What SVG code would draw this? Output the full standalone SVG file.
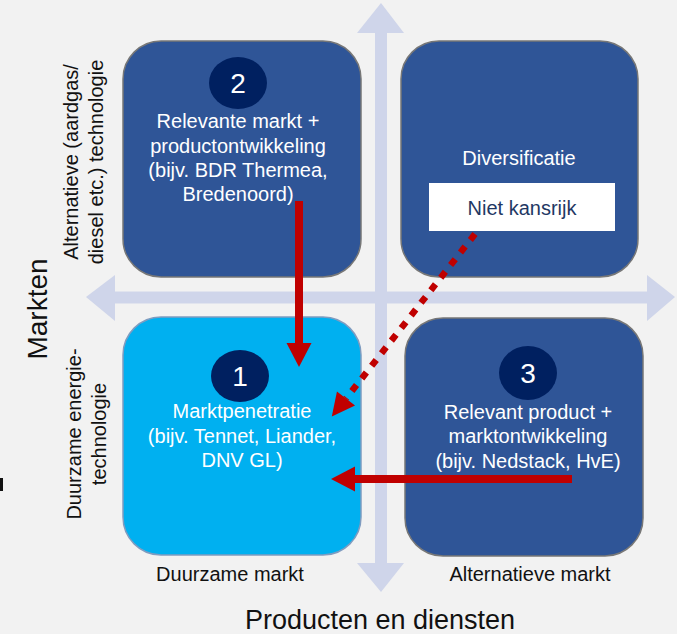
<svg xmlns="http://www.w3.org/2000/svg" width="677" height="634" viewBox="0 0 677 634">
  <style>
    .t{font-family:"Liberation Sans",Arial,sans-serif;}
    .lbl{font-size:20px;fill:#111;}
    .wt{font-size:20px;fill:#ffffff;text-anchor:middle;}
    .num{font-size:28px;fill:#ffffff;text-anchor:middle;}
    .dark{fill:#2f5597;stroke:#777777;stroke-width:1.5;}
    .light{fill:#00b0f0;stroke:#7f9cc0;stroke-width:1.5;}
    .circ{fill:#002060;}
    .axis{fill:#cfd5ea;}
    .arrow{fill:none;stroke:#c00000;stroke-width:8;}
    .dots{fill:none;stroke:#c00000;stroke-width:6.5;stroke-dasharray:7.5 8.5;}
  </style>
  <defs>
    <marker id="ah" markerWidth="24" markerHeight="25" refX="0" refY="12.5" orient="auto" markerUnits="userSpaceOnUse" overflow="visible">
      <path d="M0,0 L24,12.5 L0,25 Z" fill="#c00000" stroke="none"/>
    </marker>
    <marker id="ah2" markerWidth="23" markerHeight="23" refX="0" refY="11.5" orient="auto" markerUnits="userSpaceOnUse" overflow="visible">
      <path d="M0,0 L23,11.5 L0,23 Z" fill="#c00000" stroke="none"/>
    </marker>
  </defs>
  <rect x="0" y="0" width="677" height="634" fill="#f2f2f2"/>
  <rect x="0" y="478" width="3" height="13" fill="#111"/>

  <g id="axes" class="axis">
    <rect x="375" y="32" width="12" height="532"/>
    <polygon points="357,33 381,3 404,33"/>
    <polygon points="357,563 381,592 404,563"/>
    <rect x="114" y="291.5" width="534" height="12"/>
    <polygon points="115,275 86,297 115,321"/>
    <polygon points="647,275 675,297 647,321"/>
  </g>

  <g id="axis-labels" class="t">
    <text class="lbl" transform="translate(47,309) rotate(-90)" text-anchor="middle" font-size="28" style="font-size:28px">Markten</text>
    <text class="lbl" transform="translate(78,162) rotate(-90)" text-anchor="middle">Alternatieve (aardgas/</text>
    <text class="lbl" transform="translate(103,162) rotate(-90)" text-anchor="middle">diesel etc.) technologie</text>
    <text class="lbl" transform="translate(81,434) rotate(-90)" text-anchor="middle">Duurzame energie-</text>
    <text class="lbl" transform="translate(106,434) rotate(-90)" text-anchor="middle">technologie</text>
    <text class="lbl" x="230" y="581" text-anchor="middle">Duurzame markt</text>
    <text class="lbl" x="530" y="581" text-anchor="middle">Alternatieve markt</text>
    <text class="lbl" x="380" y="629" text-anchor="middle" style="font-size:27px">Producten en diensten</text>
  </g>

  <g id="node-2" class="t">
    <rect class="dark" x="123" y="41" width="238" height="236" rx="38"/>
    <ellipse class="circ" cx="238" cy="83" rx="29" ry="26"/>
    <text class="num" x="238" y="93">2</text>
    <text class="wt" x="238" y="128">Relevante markt +</text>
    <text class="wt" x="238" y="152.5">productontwikkeling</text>
    <text class="wt" x="238" y="177">(bijv. BDR Thermea,</text>
    <text class="wt" x="238" y="201">Bredenoord)</text>
  </g>

  <g id="node-diversificatie" class="t">
    <rect class="dark" x="401" y="41" width="237" height="236" rx="38"/>
    <text class="wt" x="519" y="165">Diversificatie</text>
    <rect x="429" y="183" width="186" height="48" fill="#ffffff"/>
    <text x="522" y="215" text-anchor="middle" style="font-size:20px;fill:#1f3864">Niet kansrijk</text>
  </g>

  <g id="node-1" class="t">
    <rect class="light" x="123" y="317" width="238" height="238" rx="38"/>
    <ellipse class="circ" cx="240" cy="376" rx="29" ry="26"/>
    <text class="num" x="240" y="386">1</text>
    <text class="wt" x="242" y="418">Marktpenetratie</text>
    <text class="wt" x="242" y="443">(bijv. Tennet, Liander,</text>
    <text class="wt" x="242" y="467">DNV GL)</text>
  </g>

  <g id="node-3" class="t">
    <rect class="dark" x="405" y="318" width="238" height="238" rx="38"/>
    <ellipse class="circ" cx="528" cy="373" rx="29" ry="27"/>
    <text class="num" x="528" y="383">3</text>
    <text class="wt" x="528" y="419">Relevant product +</text>
    <text class="wt" x="528" y="443">marktontwikkeling</text>
    <text class="wt" x="528" y="468">(bijv. Nedstack, HvE)</text>
  </g>

  <g id="connectors">
    <path class="arrow" d="M299,201 L299,343" marker-end="url(#ah)"/>
    <path class="arrow" d="M572,479 L355,479" marker-end="url(#ah)"/>
    <path class="dots" d="M475,234 L346,398.5" marker-end="url(#ah2)"/>
  </g>
</svg>
